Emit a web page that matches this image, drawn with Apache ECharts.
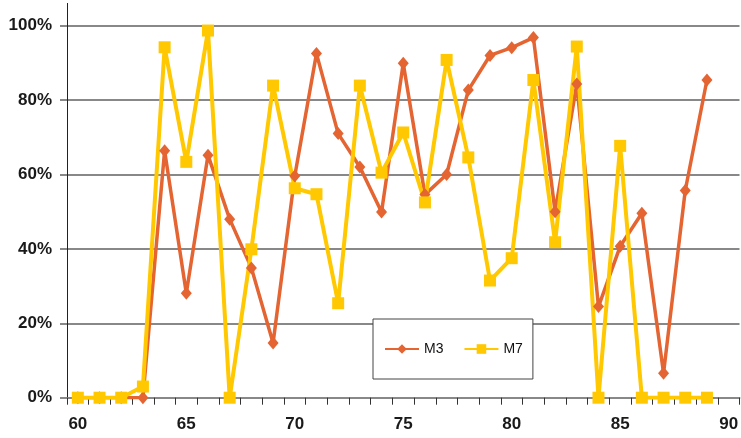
<!DOCTYPE html>
<html>
<head>
<meta charset="utf-8">
<script src="https://cdn.jsdelivr.net/npm/echarts@6/dist/echarts.min.js"></script>
<style>
  html, body { margin: 0; padding: 0; background: #fff; }
  #chart { width: 741px; height: 438px; }
</style>
</head>
<body>
<div id="chart"></div>
<script>
// Categories 60..90 (the last one holds no data)
const categories = [];
for (let c = 60; c <= 90; c++) categories.push(String(c));

// Share per category, in percent
const m3 = [0, 0, 0, 0, 66.4, 28.1, 65.2, 48, 34.9, 14.7, 59.6, 92.5, 71, 62, 49.9, 89.9, 54.6, 60, 82.7, 92, 94.1, 96.8, 50, 84.3, 24.5, 40.7, 49.6, 6.6, 55.7, 85.4];
const m7 = [0, 0, 0, 3, 94.2, 63.4, 98.7, 0, 39.9, 83.9, 56.3, 54.7, 25.4, 83.9, 60.5, 71.3, 52.5, 90.8, 64.6, 31.5, 37.5, 85.4, 41.8, 94.4, 0, 67.7, 0, 0, 0, 0];

// Y tick labels
const yTicks = [0, 20, 40, 60, 80, 100];

const labelFont = { fontFamily: 'Liberation Sans', fontWeight: 'bold', fontSize: 17, color: '#1a1a1a' };

const chart = echarts.init(document.getElementById('chart'), null, { renderer: 'canvas' });
chart.setOption({
  animation: false,
  backgroundColor: '#ffffff',
  grid: { left: 67, top: 3.4, width: 678, bottom: 40.3, containLabel: false },
  legend: {
    left: 373, top: 319,
    orient: 'horizontal',
    backgroundColor: '#ffffff',
    borderColor: '#444',
    borderWidth: 1,
    padding: [23, 10, 23, 11],
    itemGap: 20,
    itemWidth: 34,
    itemHeight: 12,
    textStyle: { fontFamily: 'Liberation Sans', fontSize: 14, color: '#111' },
    data: ['M3', 'M7']
  },
  xAxis: {
    type: 'category',
    data: categories,
    boundaryGap: true,
    axisLine: { lineStyle: { color: '#888', width: 2 } },
    axisTick: { show: true, interval: 0, alignWithLabel: false, length: 7, lineStyle: { color: '#333', width: 1 } },
    axisLabel: Object.assign({ interval: 4, margin: 18 }, labelFont),
    splitLine: { show: false }
  },
  yAxis: {
    type: 'value',
    min: 0,
    max: 106,
    interval: 20,
    axisLine: { show: true, lineStyle: { color: '#222', width: 1 } },
    axisTick: { show: true, length: 7, customValues: yTicks, lineStyle: { color: '#888', width: 2 } },
    axisLabel: Object.assign({ margin: 15, customValues: yTicks, formatter: '{value}%' }, labelFont),
    splitLine: { show: true, lineStyle: { color: '#888', width: 2 } }
  },
  series: [
    {
      name: 'M3',
      type: 'line',
      data: m3,
      symbol: 'diamond',
      symbolSize: [11, 13],
      showAllSymbol: true,
      color: '#E46432',
      lineStyle: { width: 3.5, color: '#E46432' },
      itemStyle: { color: '#E46432' }
    },
    {
      name: 'M7',
      type: 'line',
      data: m7,
      symbol: 'rect',
      symbolSize: 12,
      showAllSymbol: true,
      color: '#FFC800',
      lineStyle: { width: 4, color: '#FFC800' },
      itemStyle: { color: '#FFC800' }
    }
  ]
});
</script>
</body>
</html>
